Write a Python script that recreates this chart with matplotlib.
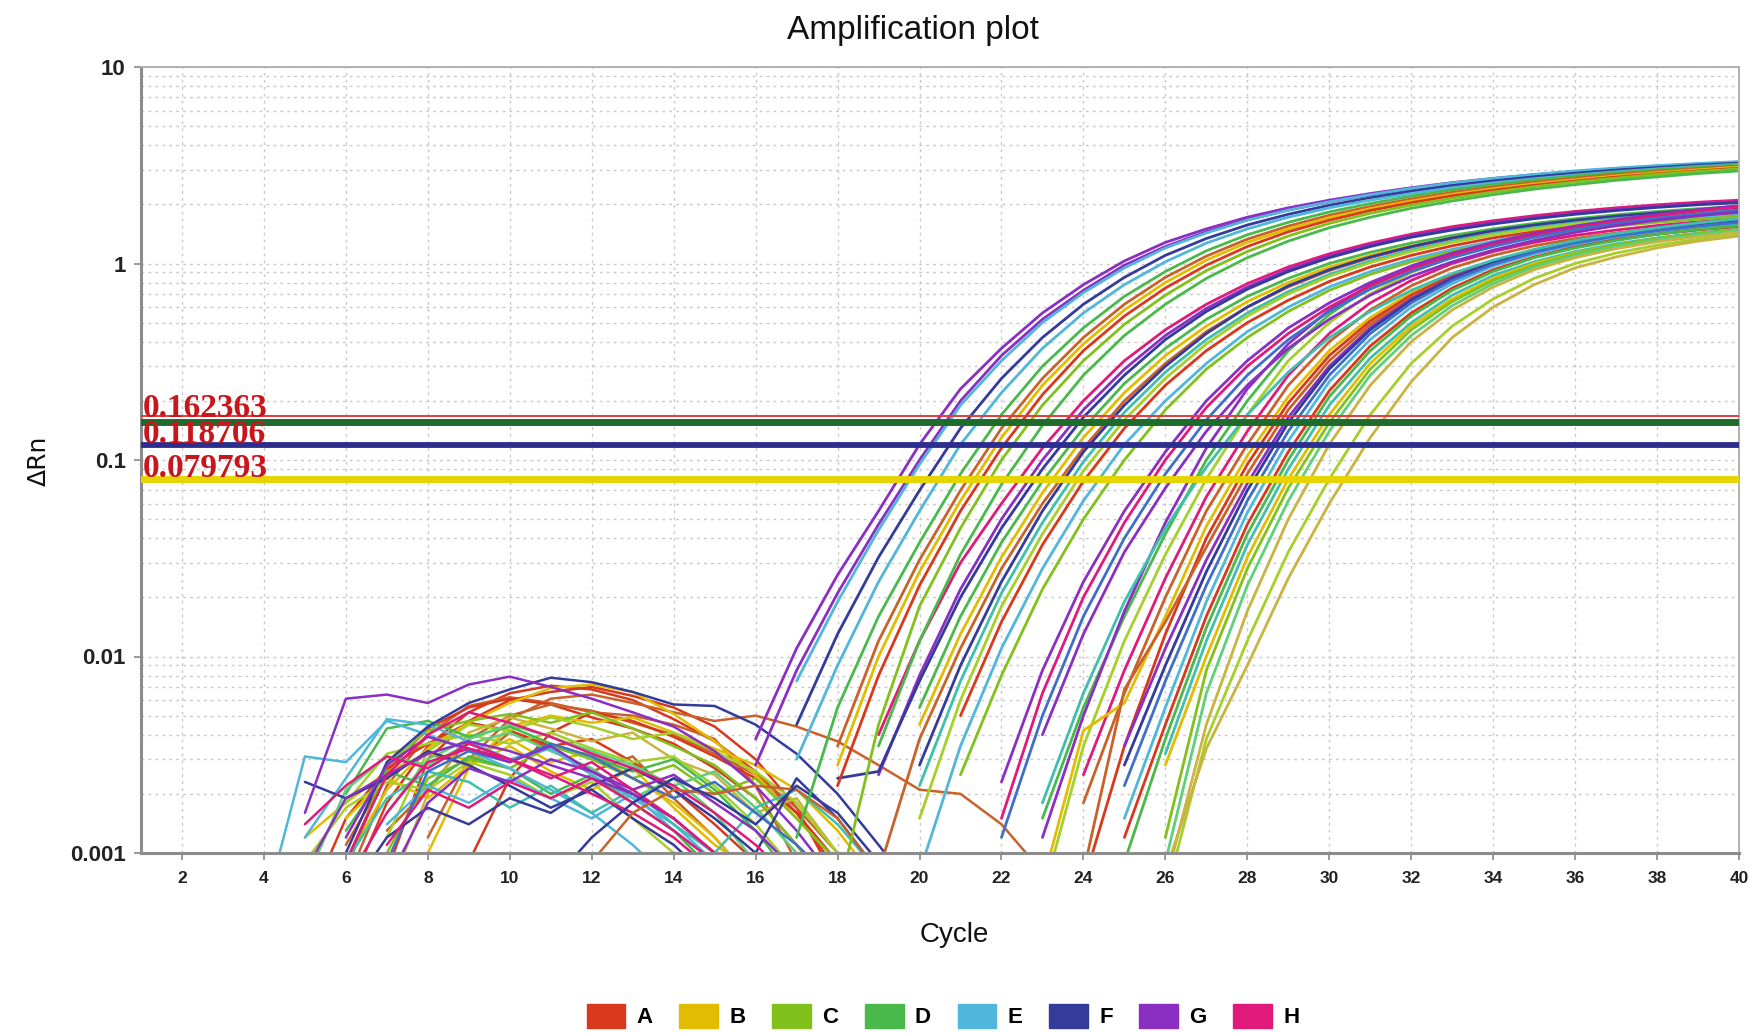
import matplotlib
matplotlib.use("Agg")
import matplotlib.pyplot as plt
from matplotlib.patches import Patch
from matplotlib.ticker import FixedLocator, FixedFormatter, NullFormatter
import numpy as np

# ---------------- data ----------------
row_labels = ["A", "B", "C", "D", "E", "F", "G", "H"]
row_colors = ["#d8381c", "#e2bc00", "#82c01c", "#48b94a", "#50b6da", "#333b9b", "#8b2ec2", "#e01a7a"]
shade_colors = {
    "A": "#d8381c", "A2": "#c9622a", "B": "#e2bc00", "B2": "#c9b341",
    "C": "#82c01c", "C2": "#a6cf2a", "D": "#48b94a", "D2": "#5fd07a",
    "E": "#50b6da", "E2": "#3fbfae", "F": "#333b9b", "F2": "#3f6fc8",
    "G": "#8b2ec2", "H": "#e01a7a",
}

# threshold lines (value, colour, width)
threshold_values = [0.168, 0.157, 0.118706, 0.079793]
threshold_colors = ["#e03c3c", "#1e6b2c", "#2b2d8f", "#e6d400"]
threshold_widths = [1.4, 5.0, 4.2, 5.0]
threshold_labels = ["0.162363", "0.118706", "0.079793"]
threshold_label_y = [0.166, 0.1215, 0.0815]

# baseline-noise segments: (colour key, first cycle, dRn values per cycle)
noise_curves = [
    ("A", 6, [0.0006, 0.0018, 0.0035, 0.0052, 0.0065, 0.0071, 0.0068, 0.0060, 0.0048, 0.0037, 0.0026, 0.0016, 0.0008]),
    ("A2", 6, [0.0007, 0.0022, 0.0040, 0.0056, 0.0062, 0.0058, 0.0052, 0.0050, 0.0045, 0.0038, 0.0022, 0.0009]),
    ("A", 7, [0.0008, 0.0030, 0.0047, 0.0060, 0.0066, 0.0070, 0.0063, 0.0055, 0.0044, 0.0030, 0.0017, 0.0007]),
    ("A2", 6, [0.0011, 0.0025, 0.0032, 0.0028, 0.0041, 0.0034, 0.0026, 0.0031, 0.0019, 0.0012, 0.0007]),
    ("A", 5, [0.0005, 0.0015, 0.0027, 0.0036, 0.0046, 0.0042, 0.0035, 0.0038, 0.0029, 0.0021, 0.0014, 0.0009, 0.0006]),
    ("A2", 8, [0.0012, 0.0030, 0.0048, 0.0061, 0.0064, 0.0058, 0.0052, 0.0047, 0.0050, 0.0044, 0.0037, 0.0028, 0.0021, 0.0020, 0.0014, 0.0008]),
    ("A", 6, [0.0009, 0.0026, 0.0043, 0.0055, 0.0061, 0.0057, 0.0049, 0.0043, 0.0036, 0.0027, 0.0019, 0.0011, 0.0006]),
    ("A2", 7, [0.0013, 0.0021, 0.0038, 0.0050, 0.0057, 0.0053, 0.0046, 0.0040, 0.0032, 0.0025, 0.0017, 0.0010]),
    ("A", 9, [0.0009, 0.0024, 0.0041, 0.0052, 0.0047, 0.0039, 0.0031, 0.0024, 0.0016, 0.0009]),
    ("B", 6, [0.0009, 0.0021, 0.0034, 0.0046, 0.0058, 0.0069, 0.0072, 0.0066, 0.0051, 0.0037, 0.0025, 0.0015, 0.0009]),
    ("B", 5, [0.0012, 0.0018, 0.0026, 0.0032, 0.0030, 0.0038, 0.0029, 0.0033, 0.0024, 0.0018, 0.0012, 0.0007]),
    ("B2", 7, [0.0006, 0.0020, 0.0041, 0.0049, 0.0043, 0.0037, 0.0041, 0.0030, 0.0025, 0.0016, 0.0019, 0.0010, 0.0006]),
    ("B", 6, [0.0015, 0.0024, 0.0019, 0.0028, 0.0035, 0.0026, 0.0021, 0.0027, 0.0017, 0.0011, 0.0008]),
    ("B", 8, [0.0010, 0.0027, 0.0044, 0.0050, 0.0046, 0.0049, 0.0041, 0.0034, 0.0028, 0.0021, 0.0013, 0.0007]),
    ("C", 6, [0.0008, 0.0028, 0.0042, 0.0047, 0.0051, 0.0046, 0.0052, 0.0043, 0.0035, 0.0028, 0.0019, 0.0011, 0.0006]),
    ("C2", 6, [0.0018, 0.0032, 0.0036, 0.0040, 0.0036, 0.0041, 0.0034, 0.0029, 0.0031, 0.0022, 0.0014, 0.0008]),
    ("C", 7, [0.0010, 0.0024, 0.0030, 0.0027, 0.0035, 0.0030, 0.0024, 0.0028, 0.0020, 0.0024, 0.0015, 0.0009]),
    ("C2", 5, [0.0009, 0.0017, 0.0023, 0.0021, 0.0029, 0.0025, 0.0019, 0.0023, 0.0015, 0.0010, 0.0006]),
    ("C2", 7, [0.0012, 0.0033, 0.0045, 0.0042, 0.0049, 0.0044, 0.0038, 0.0041, 0.0033, 0.0026, 0.0018, 0.0010]),
    ("D", 6, [0.0020, 0.0043, 0.0047, 0.0039, 0.0044, 0.0036, 0.0031, 0.0026, 0.0030, 0.0021, 0.0013, 0.0007]),
    ("D2", 5, [0.0007, 0.0021, 0.0031, 0.0028, 0.0036, 0.0041, 0.0033, 0.0027, 0.0019, 0.0024, 0.0016, 0.0009, 0.0005]),
    ("D", 6, [0.0013, 0.0026, 0.0022, 0.0031, 0.0027, 0.0020, 0.0025, 0.0018, 0.0013, 0.0008]),
    ("D2", 7, [0.0016, 0.0030, 0.0038, 0.0045, 0.0039, 0.0033, 0.0028, 0.0022, 0.0026, 0.0017, 0.0010, 0.0006]),
    ("E", 4, [0.0005, 0.0031, 0.0029, 0.0047, 0.0040, 0.0033, 0.0027, 0.0021, 0.0016, 0.0011, 0.0007]),
    ("E", 5, [0.0012, 0.0024, 0.0048, 0.0045, 0.0037, 0.0030, 0.0034, 0.0025, 0.0019, 0.0014, 0.0009, 0.0006]),
    ("E2", 6, [0.0009, 0.0019, 0.0026, 0.0023, 0.0017, 0.0022, 0.0016, 0.0021, 0.0014, 0.0010, 0.0017, 0.0021, 0.0014, 0.0008]),
    ("E", 7, [0.0014, 0.0022, 0.0018, 0.0024, 0.0019, 0.0015, 0.0020, 0.0013, 0.0009, 0.0006]),
    ("F", 6, [0.0010, 0.0029, 0.0044, 0.0058, 0.0068, 0.0078, 0.0074, 0.0066, 0.0057, 0.0056, 0.0045, 0.0032, 0.0020, 0.0011, 0.0006]),
    ("F", 5, [0.0023, 0.0019, 0.0024, 0.0033, 0.0028, 0.0022, 0.0017, 0.0021, 0.0015, 0.0011, 0.0007]),
    ("F2", 7, [0.0009, 0.0026, 0.0033, 0.0029, 0.0036, 0.0031, 0.0024, 0.0019, 0.0023, 0.0016, 0.0011, 0.0007]),
    ("F", 6, [0.0006, 0.0012, 0.0017, 0.0014, 0.0019, 0.0016, 0.0022, 0.0027, 0.0021, 0.0015, 0.0010, 0.0024, 0.0015, 0.0008]),
    ("G", 5, [0.0016, 0.0061, 0.0064, 0.0058, 0.0072, 0.0079, 0.0070, 0.0061, 0.0052, 0.0044, 0.0033, 0.0022, 0.0013, 0.0007]),
    ("G", 6, [0.0012, 0.0028, 0.0039, 0.0034, 0.0029, 0.0035, 0.0026, 0.0020, 0.0015, 0.0010, 0.0006]),
    ("G", 7, [0.0007, 0.0018, 0.0027, 0.0023, 0.0030, 0.0026, 0.0021, 0.0025, 0.0018, 0.0013, 0.0008]),
    ("G", 5, [0.0008, 0.0019, 0.0025, 0.0032, 0.0037, 0.0033, 0.0028, 0.0024, 0.0020, 0.0015, 0.0010, 0.0006]),
    ("H", 5, [0.0014, 0.0022, 0.0031, 0.0027, 0.0036, 0.0030, 0.0024, 0.0029, 0.0021, 0.0015, 0.0010, 0.0006]),
    ("H", 6, [0.0009, 0.0025, 0.0040, 0.0052, 0.0046, 0.0039, 0.0032, 0.0027, 0.0022, 0.0016, 0.0011, 0.0007]),
    ("H", 7, [0.0011, 0.0021, 0.0017, 0.0023, 0.0019, 0.0024, 0.0018, 0.0013, 0.0009, 0.0006]),
    ("H", 6, [0.0007, 0.0016, 0.0029, 0.0034, 0.0030, 0.0025, 0.0020, 0.0016, 0.0012, 0.0008]),
    ("A2", 12, [0.0009, 0.0016, 0.0021, 0.0020, 0.0022, 0.0021, 0.0015, 0.0008]),
    ("F", 11, [0.0007, 0.0012, 0.0018, 0.0024, 0.0019, 0.0014, 0.0022, 0.0016, 0.0009]),
]

# amplification curves, early group (plateau ~3.2)
amp_group1 = [
    ("G", 16, [0.0038, 0.011, 0.026, 0.055, 0.12, 0.23, 0.37, 0.56, 0.78, 1.03, 1.28, 1.5, 1.72, 1.92, 2.1, 2.27, 2.43, 2.58, 2.71, 2.83, 2.94, 3.04, 3.13, 3.21, 3.28]),
    ("G", 16, [0.0028, 0.0085, 0.021, 0.047, 0.1, 0.2, 0.34, 0.52, 0.73, 0.98, 1.22, 1.45, 1.67, 1.87, 2.06, 2.23, 2.39, 2.54, 2.68, 2.8, 2.91, 3.01, 3.1, 3.18, 3.25]),
    ("E", 17, [0.0075, 0.019, 0.044, 0.095, 0.19, 0.32, 0.5, 0.71, 0.95, 1.2, 1.43, 1.66, 1.87, 2.06, 2.24, 2.41, 2.57, 2.71, 2.84, 2.96, 3.06, 3.15, 3.23, 3.3]),
    ("F", 17, [0.0045, 0.013, 0.032, 0.07, 0.145, 0.26, 0.42, 0.62, 0.85, 1.1, 1.34, 1.57, 1.78, 1.98, 2.16, 2.33, 2.49, 2.63, 2.76, 2.88, 2.99, 3.08, 3.17, 3.24]),
    ("E", 17, [0.003, 0.009, 0.024, 0.055, 0.12, 0.22, 0.37, 0.56, 0.78, 1.02, 1.27, 1.5, 1.72, 1.92, 2.1, 2.27, 2.43, 2.57, 2.7, 2.82, 2.93, 3.03, 3.12, 3.2]),
    ("D", 17, [0.0012, 0.0055, 0.016, 0.038, 0.085, 0.17, 0.3, 0.47, 0.68, 0.91, 1.16, 1.4, 1.62, 1.83, 2.02, 2.2, 2.37, 2.52, 2.66, 2.79, 2.9, 3.0, 3.09, 3.17]),
    ("A2", 18, [0.0035, 0.012, 0.031, 0.07, 0.145, 0.26, 0.42, 0.62, 0.85, 1.09, 1.33, 1.55, 1.76, 1.95, 2.13, 2.3, 2.45, 2.59, 2.72, 2.84, 2.94, 3.04, 3.12]),
    ("B", 18, [0.0028, 0.01, 0.027, 0.062, 0.13, 0.24, 0.39, 0.58, 0.8, 1.04, 1.28, 1.5, 1.71, 1.9, 2.08, 2.25, 2.4, 2.54, 2.67, 2.79, 2.9, 3.0, 3.09]),
    ("A", 18, [0.0022, 0.008, 0.023, 0.055, 0.115, 0.215, 0.36, 0.54, 0.75, 0.98, 1.22, 1.45, 1.66, 1.86, 2.04, 2.21, 2.36, 2.5, 2.63, 2.75, 2.86, 2.96, 3.05]),
    ("C", 18, [0.0006, 0.0045, 0.018, 0.045, 0.1, 0.19, 0.32, 0.49, 0.69, 0.92, 1.15, 1.38, 1.6, 1.8, 1.98, 2.15, 2.31, 2.46, 2.6, 2.72, 2.84, 2.94, 3.03]),
    ("D", 19, [0.0035, 0.012, 0.033, 0.075, 0.15, 0.27, 0.43, 0.62, 0.84, 1.07, 1.3, 1.52, 1.72, 1.91, 2.08, 2.24, 2.39, 2.52, 2.65, 2.76, 2.87, 2.96]),
]

# middle group (plateau ~1.9-2.2)
amp_group2 = [
    ("H", 19, [0.004, 0.012, 0.03, 0.06, 0.115, 0.2, 0.32, 0.46, 0.62, 0.79, 0.96, 1.12, 1.27, 1.41, 1.54, 1.65, 1.75, 1.84, 1.92, 1.99, 2.05, 2.1]),
    ("G", 19, [0.0025, 0.008, 0.022, 0.05, 0.1, 0.18, 0.29, 0.43, 0.59, 0.76, 0.93, 1.09, 1.24, 1.38, 1.5, 1.61, 1.71, 1.8, 1.88, 1.95, 2.01, 2.06]),
    ("F", 18, [0.0024, 0.0026, 0.0075, 0.02, 0.045, 0.09, 0.165, 0.27, 0.41, 0.57, 0.74, 0.91, 1.07, 1.22, 1.36, 1.48, 1.59, 1.69, 1.78, 1.86, 1.93, 1.99, 2.04]),
    ("D", 20, [0.0055, 0.016, 0.038, 0.078, 0.145, 0.245, 0.37, 0.52, 0.68, 0.84, 1.0, 1.14, 1.27, 1.39, 1.5, 1.6, 1.69, 1.77, 1.84, 1.9, 1.95]),
    ("B", 20, [0.0045, 0.013, 0.032, 0.068, 0.13, 0.22, 0.34, 0.48, 0.64, 0.8, 0.96, 1.1, 1.23, 1.35, 1.46, 1.56, 1.65, 1.73, 1.8, 1.86, 1.91]),
    ("A2", 19, [0.0008, 0.0038, 0.011, 0.028, 0.06, 0.115, 0.2, 0.31, 0.45, 0.6, 0.76, 0.92, 1.07, 1.21, 1.34, 1.45, 1.55, 1.64, 1.72, 1.79, 1.85, 1.9]),
    ("F", 20, [0.0028, 0.009, 0.024, 0.055, 0.11, 0.19, 0.3, 0.44, 0.6, 0.77, 0.93, 1.08, 1.22, 1.35, 1.47, 1.57, 1.66, 1.74, 1.81, 1.87, 1.92]),
    ("E2", 20, [0.0022, 0.0075, 0.021, 0.048, 0.098, 0.175, 0.28, 0.41, 0.56, 0.72, 0.88, 1.03, 1.17, 1.3, 1.42, 1.52, 1.61, 1.69, 1.76, 1.82, 1.87]),
    ("C2", 20, [0.0015, 0.006, 0.018, 0.042, 0.088, 0.16, 0.26, 0.39, 0.54, 0.7, 0.86, 1.01, 1.15, 1.28, 1.4, 1.5, 1.59, 1.67, 1.74, 1.8, 1.85]),
    ("A", 21, [0.005, 0.015, 0.037, 0.078, 0.145, 0.24, 0.36, 0.5, 0.65, 0.81, 0.96, 1.1, 1.23, 1.35, 1.45, 1.54, 1.62, 1.69, 1.75, 1.8]),
    ("E", 20, [0.0008, 0.0035, 0.011, 0.028, 0.062, 0.12, 0.2, 0.31, 0.45, 0.6, 0.76, 0.91, 1.05, 1.18, 1.3, 1.41, 1.5, 1.58, 1.65, 1.71, 1.76]),
    ("C", 21, [0.0025, 0.008, 0.022, 0.05, 0.1, 0.18, 0.29, 0.42, 0.57, 0.73, 0.88, 1.02, 1.15, 1.27, 1.38, 1.47, 1.55, 1.62, 1.68, 1.73]),
    ("G", 22, [0.0023, 0.0085, 0.024, 0.055, 0.11, 0.2, 0.32, 0.47, 0.63, 0.8, 0.97, 1.13, 1.28, 1.42, 1.55, 1.67, 1.78, 1.88, 1.97]),
    ("H", 22, [0.0015, 0.0065, 0.02, 0.048, 0.1, 0.185, 0.3, 0.44, 0.6, 0.77, 0.94, 1.1, 1.25, 1.39, 1.52, 1.64, 1.75, 1.85, 1.94]),
    ("F2", 22, [0.0012, 0.005, 0.016, 0.04, 0.085, 0.16, 0.27, 0.41, 0.57, 0.74, 0.91, 1.07, 1.22, 1.36, 1.49, 1.6, 1.7, 1.79, 1.87]),
    ("G", 23, [0.004, 0.013, 0.034, 0.072, 0.14, 0.24, 0.37, 0.52, 0.69, 0.86, 1.02, 1.17, 1.31, 1.44, 1.56, 1.66, 1.75, 1.83]),
    ("E2", 23, [0.0018, 0.0065, 0.019, 0.045, 0.092, 0.17, 0.28, 0.42, 0.57, 0.73, 0.89, 1.04, 1.18, 1.31, 1.42, 1.52, 1.61, 1.69]),
]

# late group (plateau ~1.4-1.8)
amp_group3 = [
    ("D", 23, [0.0015, 0.0055, 0.016, 0.042, 0.1, 0.2, 0.36, 0.55, 0.76, 0.96, 1.14, 1.29, 1.42, 1.53, 1.62, 1.7, 1.77, 1.83]),
    ("C2", 23, [0.0006, 0.0035, 0.012, 0.033, 0.08, 0.17, 0.32, 0.5, 0.7, 0.9, 1.08, 1.23, 1.36, 1.47, 1.56, 1.64, 1.71, 1.77]),
    ("G", 23, [0.0012, 0.005, 0.017, 0.048, 0.115, 0.23, 0.39, 0.58, 0.78, 0.97, 1.14, 1.29, 1.42, 1.53, 1.62, 1.7, 1.77, 1.83]),
    ("H", 24, [0.0025, 0.0085, 0.025, 0.065, 0.14, 0.27, 0.44, 0.63, 0.82, 1.0, 1.15, 1.28, 1.39, 1.48, 1.56, 1.63, 1.69]),
    ("A2", 24, [0.0018, 0.0065, 0.02, 0.055, 0.12, 0.24, 0.4, 0.58, 0.77, 0.95, 1.1, 1.23, 1.34, 1.43, 1.51, 1.58, 1.64]),
    ("B", 23, [0.0007, 0.0042, 0.0058, 0.016, 0.046, 0.105, 0.21, 0.36, 0.53, 0.71, 0.88, 1.03, 1.16, 1.27, 1.36, 1.44, 1.51, 1.57]),
    ("A", 24, [0.0007, 0.0035, 0.013, 0.04, 0.095, 0.195, 0.34, 0.51, 0.69, 0.87, 1.02, 1.15, 1.26, 1.35, 1.43, 1.5, 1.56]),
    ("A2", 24, [0.0008, 0.0068, 0.015, 0.036, 0.085, 0.18, 0.32, 0.49, 0.67, 0.85, 1.0, 1.13, 1.24, 1.33, 1.41, 1.48, 1.54]),
    ("G", 25, [0.0035, 0.011, 0.031, 0.076, 0.165, 0.3, 0.47, 0.66, 0.85, 1.02, 1.17, 1.3, 1.41, 1.5, 1.58, 1.65]),
    ("F", 25, [0.0028, 0.009, 0.027, 0.07, 0.155, 0.29, 0.46, 0.65, 0.84, 1.01, 1.16, 1.28, 1.39, 1.48, 1.56, 1.63]),
    ("E", 25, [0.0015, 0.0055, 0.019, 0.054, 0.125, 0.25, 0.41, 0.6, 0.79, 0.97, 1.12, 1.25, 1.36, 1.45, 1.53, 1.6]),
    ("F2", 25, [0.0022, 0.0075, 0.023, 0.062, 0.14, 0.27, 0.44, 0.63, 0.82, 0.99, 1.14, 1.27, 1.38, 1.47, 1.55, 1.62]),
    ("A", 25, [0.0012, 0.0045, 0.016, 0.047, 0.11, 0.225, 0.38, 0.56, 0.75, 0.93, 1.08, 1.21, 1.32, 1.41, 1.49, 1.55]),
    ("D", 25, [0.0009, 0.0038, 0.014, 0.042, 0.1, 0.21, 0.36, 0.54, 0.73, 0.91, 1.07, 1.2, 1.31, 1.41, 1.49, 1.56]),
    ("E2", 26, [0.0032, 0.012, 0.037, 0.09, 0.19, 0.33, 0.5, 0.69, 0.87, 1.02, 1.15, 1.26, 1.35, 1.43, 1.49]),
    ("B", 26, [0.0028, 0.01, 0.032, 0.08, 0.17, 0.31, 0.48, 0.66, 0.84, 1.0, 1.13, 1.24, 1.33, 1.41, 1.47]),
    ("C", 26, [0.0012, 0.0085, 0.028, 0.072, 0.155, 0.29, 0.46, 0.64, 0.82, 0.98, 1.12, 1.24, 1.34, 1.42, 1.49]),
    ("D2", 26, [0.0009, 0.0065, 0.023, 0.062, 0.14, 0.27, 0.43, 0.61, 0.79, 0.96, 1.1, 1.22, 1.32, 1.4, 1.47]),
    ("B2", 26, [0.0007, 0.0045, 0.017, 0.05, 0.12, 0.24, 0.4, 0.58, 0.76, 0.93, 1.07, 1.19, 1.29, 1.37, 1.44]),
    ("C2", 26, [0.0006, 0.0038, 0.012, 0.034, 0.08, 0.17, 0.31, 0.48, 0.66, 0.84, 1.0, 1.13, 1.24, 1.33, 1.4]),
    ("B2", 26, [0.0008, 0.0034, 0.009, 0.025, 0.06, 0.13, 0.25, 0.42, 0.6, 0.78, 0.95, 1.08, 1.2, 1.3, 1.38]),
]

x_tick_values = list(range(2, 41, 2))
y_tick_values = [0.001, 0.01, 0.1, 1, 10]
y_tick_labels = ["0.001", "0.01", "0.1", "1", "10"]

# ---------------- figure ----------------
W, H = 1750, 1033
fig = plt.figure(figsize=(W / 100, H / 100), dpi=100)
ax = fig.add_axes([141 / W, 1 - 853 / H, (1739 - 141) / W, (853 - 67) / H])
ax.set_yscale("log")
ax.set_xlim(1, 40)
ax.set_ylim(0.001, 10)

grid_kw = dict(color="#c9c9c9", linestyle=(0, (2, 3)), linewidth=1.0)
ax.set_xticks(x_tick_values)
ax.yaxis.set_major_locator(FixedLocator(y_tick_values))
ax.yaxis.set_major_formatter(FixedFormatter(y_tick_labels))
minor_y = [m * 10.0 ** e for e in range(-3, 1) for m in range(2, 10)]
ax.yaxis.set_minor_locator(FixedLocator(minor_y))
ax.yaxis.set_minor_formatter(NullFormatter())
ax.grid(True, which="major", axis="both", **grid_kw)
ax.grid(True, which="minor", axis="y", **grid_kw)
ax.set_axisbelow(True)

ax.tick_params(axis="y", which="minor", length=0)
ax.tick_params(axis="y", which="major", length=5, width=1.2, color="#888888",
               labelsize=16, pad=6, labelcolor="#222222")
ax.tick_params(axis="x", which="major", length=5, width=1.2, color="#888888",
               labelsize=12.5, pad=8, labelcolor="#222222")
for lab in ax.get_yticklabels() + ax.get_xticklabels():
    lab.set_fontweight("bold")
    lab.set_family("Liberation Sans")

for side in ["left", "bottom"]:
    ax.spines[side].set_color("#8c8c8c")
    ax.spines[side].set_linewidth(2.2)
for side in ["top", "right"]:
    ax.spines[side].set_color("#b0b0b0")
    ax.spines[side].set_linewidth(1.4)


def draw(curves, lw):
    for key, start, vals in curves:
        cyc = np.arange(start, start + len(vals))
        ax.plot(cyc, vals, color=shade_colors[key], lw=lw, solid_joinstyle="round",
                solid_capstyle="round", zorder=2)


draw(noise_curves, 1.8)
draw(amp_group3, 2.0)
draw(amp_group2, 2.0)
draw(amp_group1, 2.0)

for v, c, w in zip(threshold_values, threshold_colors, threshold_widths):
    ax.axhline(v, color=c, lw=w, zorder=4)

for lab, yv in zip(threshold_labels, threshold_label_y):
    ax.text(1.05, yv, lab, color="#c8161d", fontsize=24, fontweight="bold",
            family="Liberation Serif", ha="left", va="baseline", zorder=5)

# titles and labels
fig.text(913 / W, 1 - 31 / H, "Amplification plot", fontsize=24, family="Liberation Sans",
         ha="center", va="center", color="#111111")
fig.text(954 / W, 1 - 935 / H, "Cycle", fontsize=20, family="Liberation Sans",
         ha="center", va="center", color="#111111")
fig.text(39 / W, 1 - 461 / H, "ΔRn", fontsize=18, family="DejaVu Sans",
         rotation=90, ha="center", va="center", color="#111111")

handles = [Patch(facecolor=c, edgecolor=c) for c in row_colors]
fig.legend(handles, row_labels, loc="center", bbox_to_anchor=(943 / W, 1 - 1016 / H),
           ncol=8, frameon=False, handlelength=1.75, handleheight=1.3,
           handletextpad=0.5, columnspacing=1.2,
           prop={"family": "Liberation Sans", "size": 16, "weight": "bold"})

fig.savefig("out.png", dpi=100, facecolor="white")
